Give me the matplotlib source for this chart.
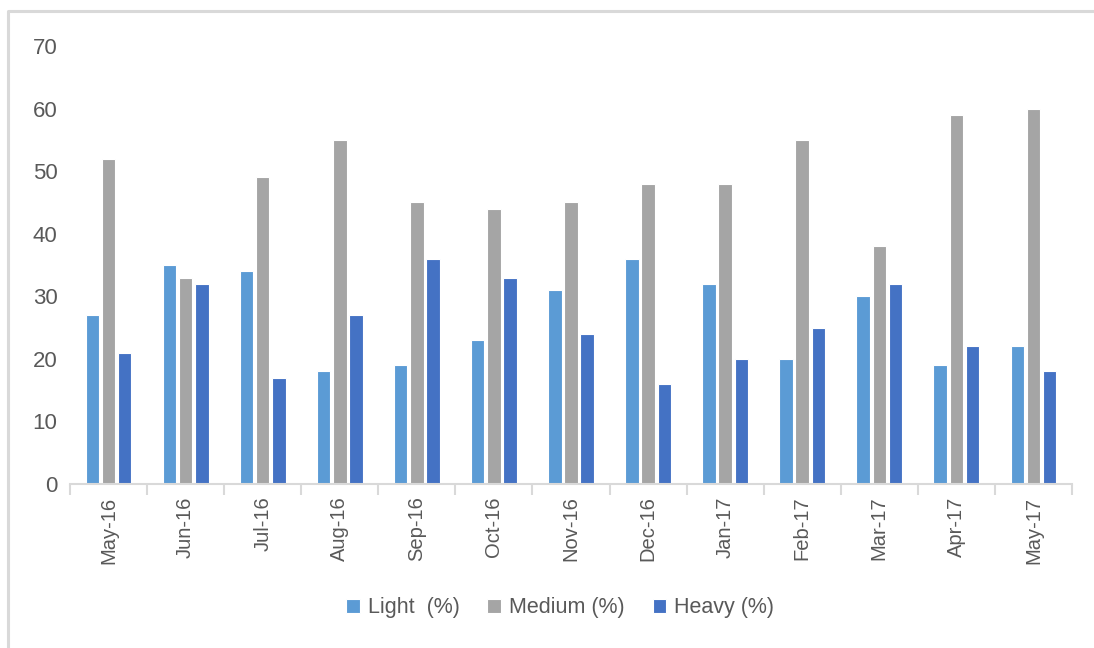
import matplotlib
matplotlib.use('Agg')
import matplotlib.pyplot as plt
from matplotlib.lines import Line2D
import numpy as np

plt.rcParams['font.family'] = ['Liberation Sans', 'DejaVu Sans']

months = ['May-16', 'Jun-16', 'Jul-16', 'Aug-16', 'Sep-16', 'Oct-16', 'Nov-16',
          'Dec-16', 'Jan-17', 'Feb-17', 'Mar-17', 'Apr-17', 'May-17']
light = [27, 35, 34, 18, 19, 23, 31, 36, 32, 20, 30, 19, 22]
medium = [52, 33, 49, 55, 45, 44, 45, 48, 48, 55, 38, 59, 60]
heavy = [21, 32, 17, 27, 36, 33, 24, 16, 20, 25, 32, 22, 18]

series = [('Light  (%)', light, '#5B9BD5'),
          ('Medium (%)', medium, '#A5A5A5'),
          ('Heavy (%)', heavy, '#4472C4')]

W, H = 1094, 648
fig = plt.figure(figsize=(W / 100, H / 100), dpi=100)
ax = fig.add_axes([70 / W, 1 - 484 / H, 1002 / W, 438 / H])

# chart box border: only the left and top edges show in the crop
fig.lines.append(Line2D([8 / W, 8 / W, 1], [0, 1 - 11 / H, 1 - 11 / H],
                        transform=fig.transFigure, color='#D9D9D9', linewidth=2.2))

x = np.arange(len(months))
step = 0.21
width = 0.175
for i, (name, vals, col) in enumerate(series):
    ax.bar(x + (i - 1) * step, vals, width, color=col, edgecolor='white',
           linewidth=0.8, label=name)

ax.set_xlim(-0.5, len(months) - 0.5)
ax.set_ylim(0, 70)
ax.set_yticks(range(0, 71, 10))
ax.set_xticks(x)
ax.set_xticklabels(months, rotation=90, fontsize=14.5, color='#595959')
ax.tick_params(axis='x', length=0, pad=9)
ax.set_xticks(np.arange(-0.5, len(months), 1), minor=True)
ax.tick_params(axis='x', which='minor', length=8, color='#D9D9D9', width=1.5)
ax.tick_params(axis='y', length=0, labelsize=16, labelcolor='#595959', pad=9)

for s in ['top', 'right', 'left']:
    ax.spines[s].set_visible(False)
ax.spines['bottom'].set_color('#D9D9D9')
ax.spines['bottom'].set_linewidth(1.5)

fig.legend(loc='center', bbox_to_anchor=(560 / W, 1 - 608 / H), ncol=3,
           frameon=False, fontsize=15.5, labelcolor='#595959', handlelength=0.65,
           handleheight=0.65, columnspacing=1.3, handletextpad=0.35)

fig.savefig('out.png', dpi=100)
